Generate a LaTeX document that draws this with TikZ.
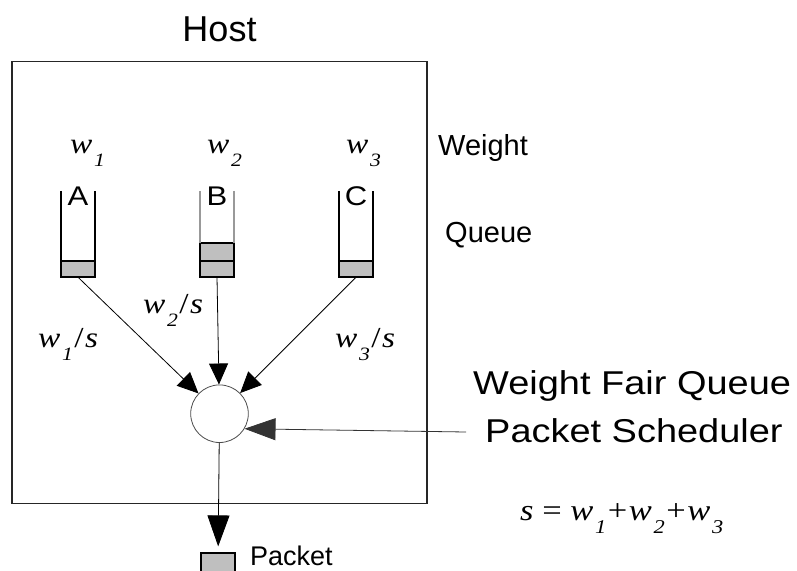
\documentclass[tikz,border=0pt]{standalone}
\usepackage{fontspec}
\setmainfont{Liberation Sans}
\newfontfamily\tms[FakeStretch=1.15]{Liberation Serif}
\newfontfamily\widesans[FakeStretch=1.15]{Liberation Sans}
\usetikzlibrary{arrows.meta}
\newcommand\wsub[1]{\textit{w}\kern0.06em\raisebox{-0.46em}{\scalebox{0.65}{\textit{#1}}}}
\tikzset{
  frame/.style={draw=black!85, line width=1.5pt, rectangle, inner sep=0pt},
  qslot/.style={rectangle, inner sep=0pt, minimum width=34pt, minimum height=86pt},
  qwall/.style={line width=1.8pt, black},
  qwallg/.style={line width=1.6pt, black!40},
  cell/.style={fill=black!25, draw=black, line width=1.5pt},
  arr/.style={-{Triangle[length=21pt,width=19pt]}, line width=0.8pt, black},
  bigarr/.style={-{Triangle[length=31pt,width=22pt]}, line width=0.8pt, black},
  sched/.style={circle, draw=black!70, line width=0.8pt, minimum size=57.6pt, inner sep=0pt},
  txt/.style={inner sep=0pt, anchor=base west},
  mth/.style={inner sep=0pt, anchor=base west, font=\tms\fontsize{29}{32}\selectfont},
  qletter/.style={inner sep=0pt, anchor=base, font=\widesans\fontsize{27}{30}\selectfont},
}
\begin{document}
\begin{tikzpicture}[x=1pt, y=-1pt]
\clip (0,0) rectangle (797,570);
\fill[white] (0,0) rectangle (797,570);
% host box
\node[frame, minimum width=415pt, minimum height=442pt] (host) at (219.5,282.5) {};
\node[inner sep=0pt, anchor=base, font=\fontsize{36}{40}\selectfont] (hostlbl) at (219.5,41) {Host};
% right labels
\node[txt, font=\fontsize{29}{32}\selectfont] (wlbl) at (438,155) {Weight};
\node[txt, font=\fontsize{29}{32}\selectfont] (qlbl) at (445,242) {Queue};
% queues
\node[qslot] (qA) at (78,234) {};
\node[qslot] (qB) at (217,234) {};
\node[qslot] (qC) at (356,234) {};
\fill[cell] ([yshift=16pt]qA.south west) rectangle (qA.south east);
\fill[cell] ([yshift=16pt]qC.south west) rectangle (qC.south east);
\fill[cell] ([yshift=34pt]qB.south west) rectangle (qB.south east);
\draw[cell, fill=none] ([yshift=16pt]qA.south west) rectangle (qA.south east);
\draw[cell, fill=none] ([yshift=16pt]qC.south west) rectangle (qC.south east);
\draw[cell, fill=none] ([yshift=16pt]qB.south west) rectangle (qB.south east);
\draw[cell, fill=none] ([yshift=34pt]qB.south west) rectangle ([yshift=16pt]qB.south east);
\draw[qwall] (qA.north west) -- (qA.south west) -- (qA.south east) -- (qA.north east);
\draw[qwall] (qC.north west) -- (qC.south west) -- (qC.south east) -- (qC.north east);
\draw[qwallg] (qB.north west) -- ([yshift=34pt]qB.south west);
\draw[qwallg] (qB.north east) -- ([yshift=34pt]qB.south east);
\node[qletter] (la) at (78,205) {A};
\node[qletter] (lb) at (217,205) {B};
\node[qletter] (lc) at (356,205) {C};
% weights
\node[mth] (w1) at (70,153) {\wsub{1}};
\node[mth] (w2) at (207,153) {\wsub{2}};
\node[mth] (w3) at (346,153) {\wsub{3}};
% scheduler
\node[sched] (sch) at (219.5,413.7) {};
\draw[arr] (qA.south) -- (sch);
\draw[arr] (qB.south) -- (sch);
\draw[arr] (qC.south) -- (sch);
\node[mth] (l1) at (38,347) {\wsub{1}\kern0.05em/\kern0.05em\textit{s}};
\node[mth] (l2) at (143,313) {\wsub{2}\kern0.05em/\kern0.05em\textit{s}};
\node[mth] (l3) at (335,347) {\wsub{3}\kern0.05em/\kern0.05em\textit{s}};
% scheduler label
\node[txt, font=\widesans\fontsize{33}{36}\selectfont] (wfq) at (473,394) {Weight Fair Queue};
\node[txt, font=\widesans\fontsize{33}{36}\selectfont] (psch) at (485,442) {Packet Scheduler};
\coordinate (src) at (466,432);
\draw[bigarr, black!80] (src) -- (sch.-31);
% output
\node[rectangle, fill=black!25, draw=black, line width=1.2pt, minimum width=34pt, minimum height=22pt, inner sep=0pt] (pkt) at (218,564) {};
\draw[bigarr] (sch) -- (pkt) [shorten >=6pt];
\node[txt, font=\fontsize{27}{30}\selectfont] (pktlbl) at (250,565) {Packet};
% formula
\node[mth, font=\tms\fontsize{30}{34}\selectfont] (form) at (520,520) {\textit{s} = \wsub{1}\kern0.05em+\kern0.05em\wsub{2}\kern0.05em+\kern0.05em\wsub{3}};
\end{tikzpicture}
\end{document}
